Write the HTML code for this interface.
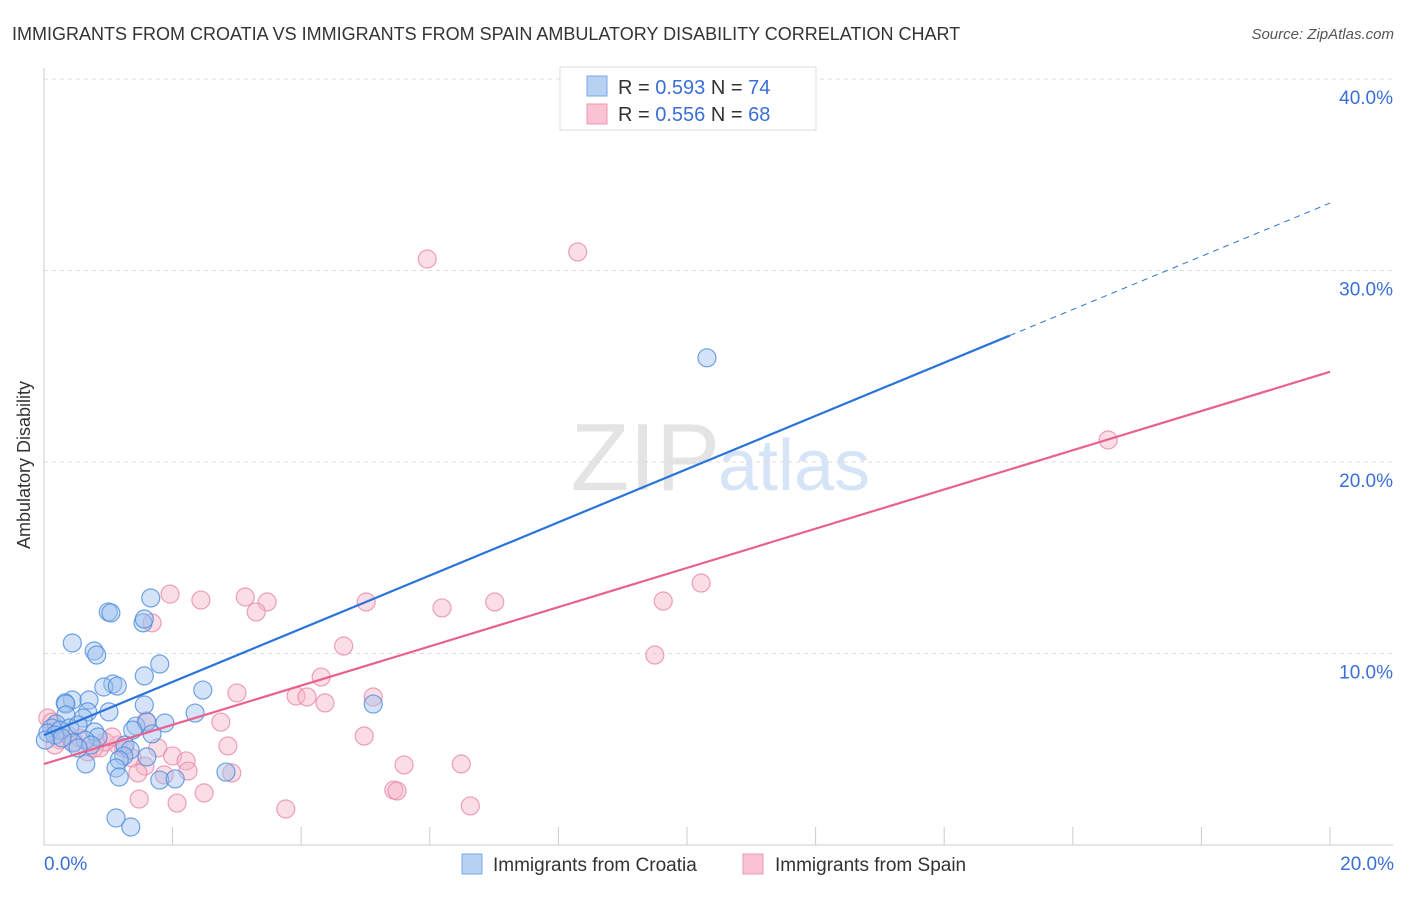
<!DOCTYPE html>
<html><head><meta charset="utf-8"><style>
body{margin:0;background:#fff;font-family:"Liberation Sans",sans-serif;}
svg text{font-family:"Liberation Sans",sans-serif;}
</style></head><body>
<svg width="1406" height="892" xmlns="http://www.w3.org/2000/svg">
<text x="12" y="40" font-size="18" fill="#333">IMMIGRANTS FROM CROATIA VS IMMIGRANTS FROM SPAIN AMBULATORY DISABILITY CORRELATION CHART</text>
<text x="1394" y="39" font-size="15" fill="#555" font-style="italic" text-anchor="end">Source: ZipAtlas.com</text>
<text x="720" y="490" font-size="96" fill="#e4e4e4" text-anchor="end" font-family="Liberation Serif">ZIP</text>
<text x="718" y="490" font-size="72" fill="#d6e4f7">atlas</text>
<g id="grid"></g>
<g id="axes"></g>
<g id="pts"></g>
<g id="lines"></g>
<text x="20" y="455" font-size="18" fill="#333" transform="rotate(-90 30 455)" text-anchor="middle">Ambulatory Disability</text>
<text x="44" y="870" font-size="19" fill="#3a6fd8">0.0%</text>
<text x="1394" y="870" font-size="19" fill="#3a6fd8" text-anchor="end">20.0%</text>
<g>
<rect x="560" y="67" width="256" height="63" fill="#fff" stroke="#ddd"/>
<rect x="587" y="76" width="20" height="20" fill="#b7d1f3" stroke="#7aa6e6"/>
<rect x="587" y="104" width="20" height="20" fill="#f9c3d3" stroke="#ef9ab6"/>
<text x="618" y="94" font-size="20" fill="#333">R = <tspan fill="#3a6fd8">0.593</tspan>   N = <tspan fill="#3a6fd8">74</tspan></text>
<text x="618" y="121" font-size="20" fill="#333">R = <tspan fill="#3a6fd8">0.556</tspan>   N = <tspan fill="#3a6fd8">68</tspan></text>
</g>
<g>
<rect x="462" y="854" width="20" height="20" fill="#b7d1f3" stroke="#7aa6e6"/>
<text x="493" y="871" font-size="19" fill="#333">Immigrants from Croatia</text>
<rect x="743" y="854" width="20" height="20" fill="#f9c3d3" stroke="#ef9ab6"/>
<text x="775" y="871" font-size="19" fill="#333">Immigrants from Spain</text>
</g>
</svg>
<script>
const yTicks=[10,20,30,40];
const yTickLabels=["10.0%","20.0%","30.0%","40.0%"];
const xTicks=[0,2,4,6,8,10,12,14,16,18,20];
const croatiaX=[10.31,1.66,1.0,1.04,1.54,1.56,0.44,0.78,0.82,1.8,1.56,1.07,0.93,1.14,2.47,0.44,0.33,0.34,0.7,1.56,5.12,1.01,2.35,0.68,0.61,0.34,1.88,1.43,1.6,0.19,0.12,0.06,0.25,0.4,0.53,0.79,0.84,1.68,1.38,0.64,0.73,1.26,0.45,0.53,1.34,1.24,1.17,1.12,1.8,2.04,2.83,0.65,1.17,1.6,1.12,1.35,0.17,0.28,0.02];
const croatiaY=[25.44,12.9,12.17,12.12,11.6,11.8,10.55,10.13,9.92,9.45,8.83,8.41,8.25,8.3,8.09,7.57,7.42,7.36,7.57,7.31,7.36,6.95,6.89,6.95,6.63,6.79,6.37,6.21,6.42,6.32,6.11,5.85,6.0,6.11,6.27,5.9,5.64,5.8,6.0,5.48,5.22,5.22,5.33,5.07,4.96,4.65,4.44,4.02,3.39,3.45,3.81,4.23,3.55,4.6,1.41,0.94,5.74,5.59,5.48];
const spainX=[8.3,5.96,16.55,10.22,1.96,3.13,2.44,3.47,5.01,7.01,9.63,6.19,3.3,1.68,4.66,9.5,4.31,3.0,5.12,3.92,4.09,4.37,1.59,2.75,0.06,0.12,4.98,2.86,1.77,1.15,1.24,0.87,1.37,2.0,2.21,1.57,5.6,6.49,1.46,1.87,2.24,2.92,2.49,1.48,2.07,3.76,6.63,5.44,5.49,0.25,0.37,0.47,0.56,0.17,0.95,1.06,0.68,0.78];
const spainY=[30.97,30.6,21.15,13.68,13.1,12.95,12.79,12.69,12.69,12.69,12.74,12.38,12.17,11.6,10.39,9.92,8.77,7.94,7.73,7.78,7.73,7.42,6.48,6.42,6.63,6.42,5.69,5.17,5.07,5.22,5.07,5.07,4.54,4.65,4.39,4.12,4.18,4.23,3.76,3.66,3.86,3.76,2.72,2.4,2.19,1.88,2.04,2.87,2.82,5.48,5.74,5.38,5.59,5.22,5.38,5.64,4.86,5.07];
const fitIntercept=[5.74,4.23];
const fitSlope=[1.389,1.024];
const solidEnd=[15.02,20];

const NS="http://www.w3.org/2000/svg";
const sx=v=>44+v*64.3;
const sy=v=>845-v*19.15;
function mk(tag,attrs,parent){const e=document.createElementNS(NS,tag);for(const k in attrs)e.setAttribute(k,attrs[k]);parent.appendChild(e);return e;}
const grid=document.getElementById('grid'),axes=document.getElementById('axes'),pts=document.getElementById('pts'),lines=document.getElementById('lines');
yTicks.forEach((t,i)=>{
 const l=mk('line',{x1:44,x2:1393,y1:sy(t),y2:sy(t),stroke:'#ddd','stroke-dasharray':'4,4'},grid);
 
 
 const tx=mk('text',{x:1393,y:sy(t)+25,'font-size':19,fill:'#3a6fd8','text-anchor':'end'},grid);
 tx.textContent=yTickLabels[i];
 
 
});
const ax=mk('line',{x1:44,x2:1393,y1:845,y2:845,stroke:'#ccc'},axes);


const ay=mk('line',{x1:44,x2:44,y1:68,y2:845,stroke:'#ccc'},axes);


xTicks.forEach(t=>{
 const l=mk('line',{x1:sx(t),x2:sx(t),y1:827,y2:845,stroke:'#ccc'},axes);
 
 
});
function dots(X,Y,fill,stroke,name){
 X.forEach((x,i)=>{
  const c=mk('circle',{cx:sx(x),cy:sy(Y[i]),r:9,fill:fill,'fill-opacity':0.45,stroke:stroke,'stroke-width':1.2,'stroke-opacity':0.8},pts);
  
  
 });
}
dots(spainX,spainY,'#f7b3c8','#e98aa9','point-spain');
dots(croatiaX,croatiaY,'#9fc2ee','#4f8ddf','point-croatia');
const colors=['#2a73d9','#e8628e'];
[0,1].forEach(k=>{
 const a=fitIntercept[k],b=fitSlope[k],e=solidEnd[k];
 const l=mk('line',{x1:sx(0),y1:sy(a),x2:sx(e),y2:sy(a+b*e),stroke:colors[k],'stroke-width':2.2},lines);
 
 
 if(e<20){
  const d=mk('line',{x1:sx(e),y1:sy(a+b*e),x2:sx(20),y2:sy(a+b*20),stroke:colors[k],'stroke-width':1,'stroke-dasharray':'6,5'},lines);
  
  
 }
});
</script>
</body></html>
